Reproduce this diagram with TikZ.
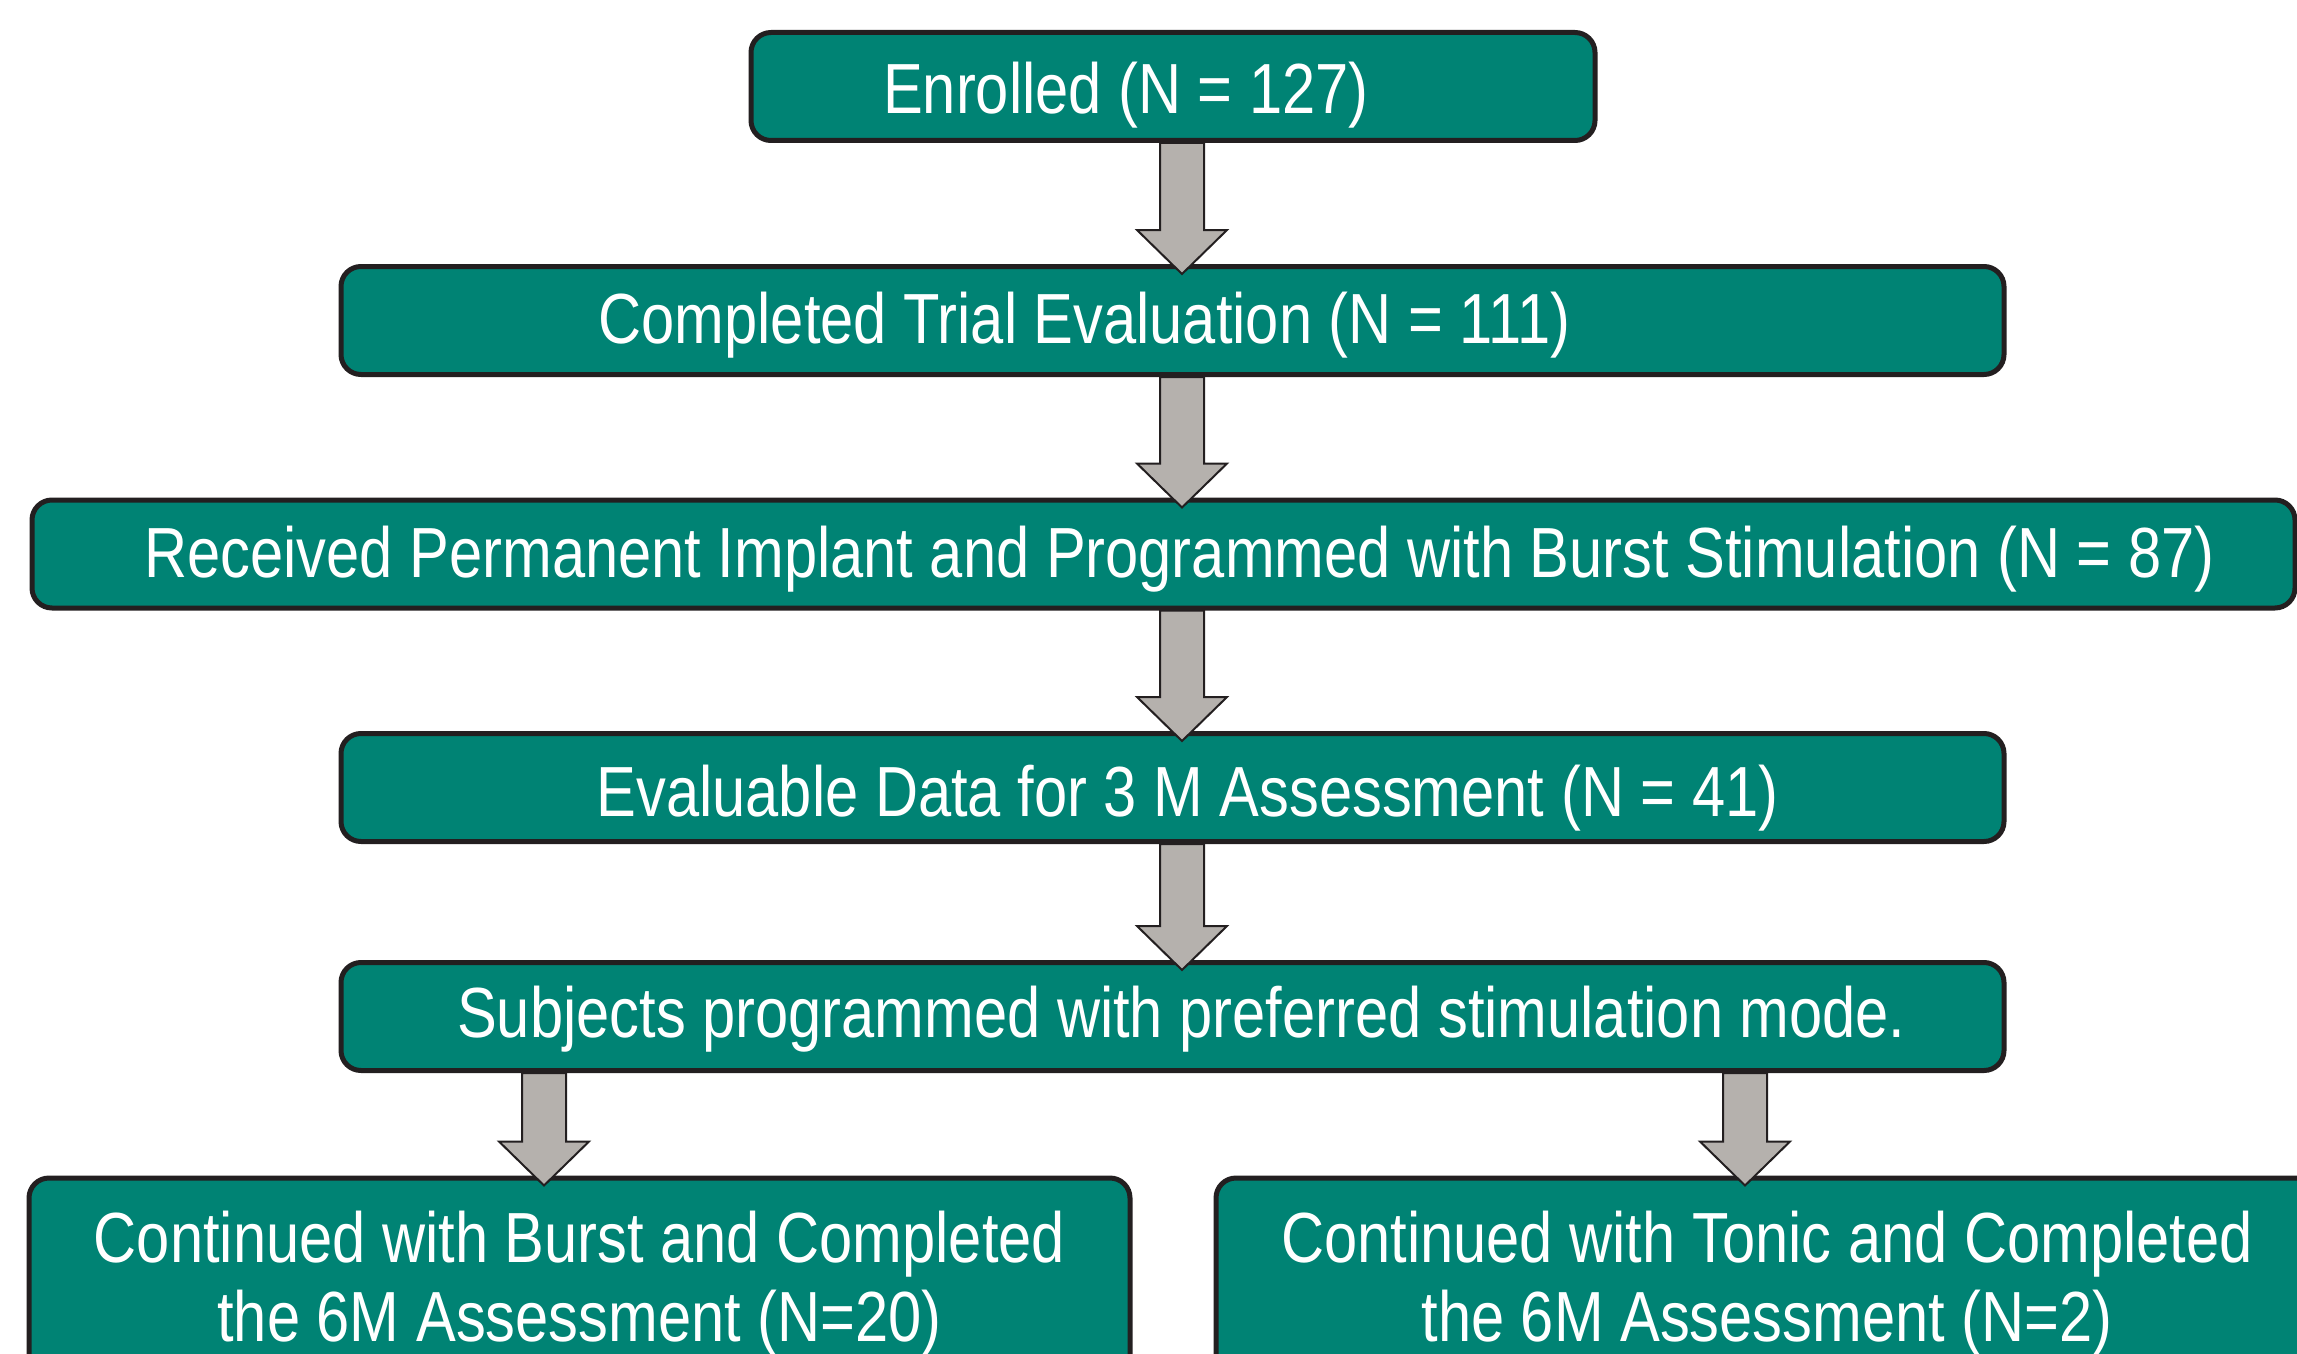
\documentclass[tikz,border=0pt]{standalone}
\usepackage{fontspec}
\setmainfont{Liberation Sans}[FakeStretch=0.84]
\usetikzlibrary{calc}

\definecolor{boxteal}{RGB}{0,131,116}
\definecolor{edgeink}{RGB}{35,31,32}
\definecolor{arrowgray}{RGB}{181,177,173}

\tikzset{
  stage/.style={draw=edgeink, fill=boxteal, line width=2.5pt, rounded corners=10pt,
    text=white, inner sep=0pt, font=\fontsize{35.5}{39.5}\selectfont},
  single/.style={stage, minimum height=54pt, text depth=0pt},
  double/.style={stage, align=center, minimum height=106pt},
  flow/.style={draw=edgeink, fill=arrowgray, line width=1pt, line join=miter},
}

% block arrow from the bottom of one box to the top of the next
\newcommand\blockarrow[2]{%
  \draw[flow] ($(#1)+(-22,0)$) -- ($(#2)+(-22,-34)$) -- ($(#2)+(-45,-34)$)
    -- ($(#2)+(0,10)$) -- ($(#2)+(45,-34)$) -- ($(#2)+(22,-34)$)
    -- ($(#1)+(22,0)$) -- cycle;}

\begin{document}
\begin{tikzpicture}[x=0.5pt,y=-0.5pt]
  \useasboundingbox (0,0) rectangle (2297,1354);
  \clip (0,0) rectangle (2297,1354);

  \node[single, text height=27.5pt, minimum width=422pt] (n1) at (1173,86.5)
    {\hspace*{-47pt}Enrolled (N = 127)};
  \node[single, text height=23pt, minimum width=831.5pt] (n2) at (1172.5,320.5)
    {\hspace*{-88pt}Completed Trial Evaluation (N = 111)};
  \node[single, text height=23pt, minimum width=1131.5pt] (n3) at (1163.5,554)
    {\hspace*{16pt}Received Permanent Implant and Programmed with Burst Stimulation (N = 87)};
  \node[single, text height=28.5pt, minimum width=831.5pt] (n4) at (1172.5,787.5)
    {\hspace*{15pt}Evaluable Data for 3 M Assessment (N = 41)};
  \node[single, text height=20.5pt, minimum width=831.5pt] (n5) at (1172.5,1016.5)
    {\hspace*{9pt}Subjects programmed with preferred stimulation mode.};
  \node[double, minimum width=550.5pt] (n6) at (579.5,1284)
    {Continued with Burst and Completed\\the 6M Assessment (N=20)};
  \node[double, minimum width=551pt] (n7) at (1767,1284)
    {Continued with Tonic and Completed\\the 6M Assessment (N=2)};

  \coordinate (spine) at (1182,0);
  \coordinate (lft) at (544,0);
  \coordinate (rgt) at (1745,0);

  \blockarrow{n1.south -| spine}{n2.north -| spine}
  \blockarrow{n2.south -| spine}{n3.north -| spine}
  \blockarrow{n3.south -| spine}{n4.north -| spine}
  \blockarrow{n4.south -| spine}{n5.north -| spine}
  \blockarrow{n5.south -| lft}{n6.north -| lft}
  \blockarrow{n5.south -| rgt}{n7.north -| rgt}
\end{tikzpicture}
\end{document}
